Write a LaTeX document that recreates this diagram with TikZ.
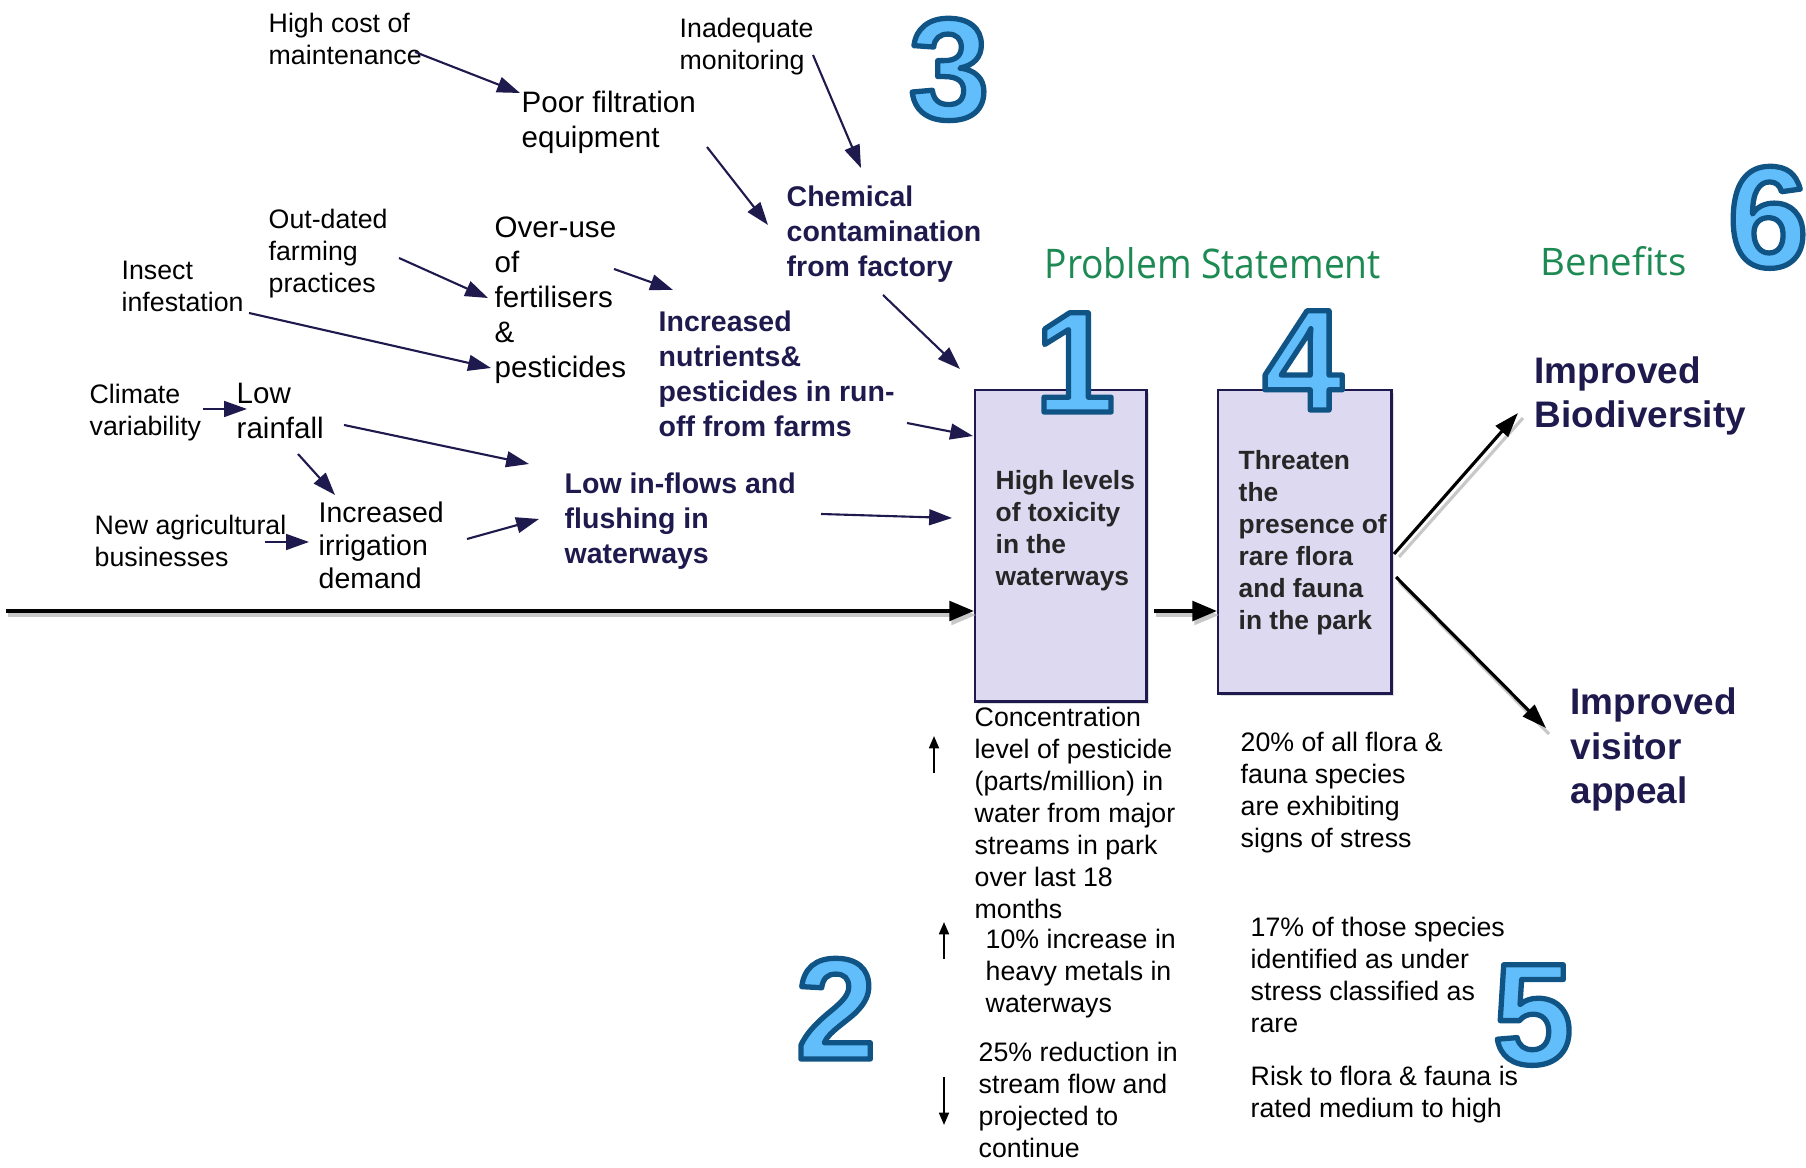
\documentclass[tikz,border=0pt]{standalone}
\usepackage{fontspec}
\usepackage{graphicx}
\setmainfont{Liberation Sans}
\newfontfamily\psfont{Open Sans}
\usetikzlibrary{arrows.meta,calc}
\definecolor{navy}{RGB}{31,26,77}
\definecolor{boxfill}{RGB}{221,217,240}
\definecolor{boxtext}{RGB}{38,38,38}
\definecolor{psgreen}{RGB}{28,138,82}
\definecolor{numfill}{RGB}{97,190,250}
\definecolor{numline}{RGB}{16,84,134}
\definecolor{shade}{RGB}{200,200,200}
\newcommand\fs[2]{\fontsize{#1pt}{#2pt}\selectfont}
% outlined numeral: fill + stroke text rendering (numerals are drawn last)
\newcommand\outl[1]{\special{pdf:literal direct 2 Tr 1.5 w 1 j 0.063 0.329 0.525 RG}#1}
\newcommand\bignum[3]{\node[numstyle,text=numfill] (#1) at (#2) {\outl{#3}};}
\tikzset{
  txt/.style={inner sep=0pt, align=left, anchor=base west},
  smalltxt/.style={txt, font=\fs{7.6}{9.1}},
  midtxt/.style={txt, font=\fs{8.4}{10}},
  cause/.style={txt, text=navy, font=\bfseries\fs{8.1}{10}},
  boxtxt/.style={txt, text=boxtext, font=\bfseries\fs{7.5}{9.1}},
  benefit/.style={txt, text=navy, font=\bfseries\fs{10.5}{12.7}},
  nav/.style={draw=navy, line width=0.6pt, -{Triangle[length=6.5pt,width=4.5pt]}},
  mainarrow/.style={draw=black, line width=1.2pt, -{Triangle[length=7pt,width=5.5pt]}},
  mainshadow/.style={draw=shade, line width=1.2pt, -{Triangle[length=7pt,width=5.5pt]}},
  ben/.style={draw=black, line width=0.9pt, -{Triangle[length=7pt,width=4.6pt]}},
  benshadow/.style={draw=shade, line width=0.9pt},
  tick/.style={draw=black, line width=0.6pt, -{Triangle[length=3.5pt,width=2.8pt]}},
  probbox/.style={draw=navy, fill=boxfill, line width=0.7pt, anchor=north west, inner sep=0pt},
  boxshadow/.style={fill=shade, anchor=north west, inner sep=0pt, opacity=0.6},
  numstyle/.style={inner sep=0pt, anchor=base, font=\bfseries\fontsize{41pt}{41pt}\selectfont},
  headtxt/.style={inner sep=0pt, anchor=base west, text=psgreen},
}
\begin{document}
\begin{tikzpicture}[x=0.01cm, y=-0.01cm]
\useasboundingbox (0,0) rectangle (1806,1168);

% causes (positions are the baseline of the last line)
\node[smalltxt] (hc) at (268,65) {High cost of\\maintenance};
\node[midtxt] (pf) at (521,148) {Poor filtration\\equipment};
\node[smalltxt] (im) at (679,70) {Inadequate\\monitoring};
\node[cause] (cc) at (786,277) {Chemical\\contamination\\from factory};
\node[smalltxt] (od) at (268,293) {Out-dated\\farming\\practices};
\node[smalltxt] (ii) at (121,312) {Insect\\infestation};
\node[midtxt] (ou) at (494,378) {Over-use\\of\\fertilisers\\\&\\pesticides};
\node[cause] (in) at (658,437) {Increased\\nutrients\&\\pesticides in run-\\off from farms};
\node[smalltxt] (cv) at (89,436) {Climate\\variability};
\node[midtxt] (lr) at (236,439) {Low\\rainfall};
\node[smalltxt] (na) at (94,567) {New agricultural\\businesses};
\node[txt, font=\fs{8.1}{9.5}] (ir) at (318,589) {Increased\\irrigation\\demand};
\node[cause] (lf) at (564,564) {Low in-flows and\\flushing in\\waterways};

% problem boxes
\node[boxshadow, minimum width=1.71cm, minimum height=3.11cm] at (977,392) {};
\node[boxshadow, minimum width=1.73cm, minimum height=3.03cm] at (1220,392) {};
\node[probbox, minimum width=1.71cm, minimum height=3.11cm] (b1) at (974,389) {};
\node[probbox, minimum width=1.73cm, minimum height=3.03cm] (b2) at (1217,389) {};
\node[boxtxt] (b1t) at (995,586) {High levels\\of toxicity\\in the\\waterways};
\node[boxtxt] (b2t) at (1238,630) {Threaten\\the\\presence of\\rare flora\\and fauna\\in the park};

% headings
\node[headtxt] (ps) at (1044,279) {\resizebox{3.36cm}{0.31cm}{\psfont Problem Statement}};
\node[headtxt] (bf) at (1540,276) {\resizebox{1.46cm}{0.29cm}{\psfont Benefits}};

% evidence
\node[smalltxt] (conc) at (974,919) {Concentration\\level of pesticide\\(parts/million) in\\water from major\\streams in park\\over last 18\\months};
\node[smalltxt] (metals) at (985,1013) {10\% increase in\\heavy metals in\\waterways};
\node[smalltxt] (flow) at (978,1158) {25\% reduction in\\stream flow and\\projected to\\continue};
\node[smalltxt] (stress) at (1240,848) {20\% of all flora \&\\fauna species\\are exhibiting\\signs of stress};
\node[smalltxt] (rare) at (1250,1033) {17\% of those species\\identified as under\\stress classified as\\rare};
\node[smalltxt] (risk) at (1250,1118) {Risk to flora \& fauna is\\rated medium to high};

% benefits
\node[benefit] (ib) at (1534,428) {Improved\\Biodiversity};
\node[benefit] (iv) at (1570,804) {Improved\\visitor\\appeal};

% connector ends
\coordinate (hc-o) at (415,52);   \coordinate (pf-i) at (520,93);
\coordinate (pf-o) at (707,147);  \coordinate (cc-i1) at (768,225);
\coordinate (im-o) at (813,55);   \coordinate (cc-i2) at (861,168);
\coordinate (cc-o) at (883,295);  \coordinate (b1-i1) at (960,369);
\coordinate (od-o) at (399,258);  \coordinate (ou-i1) at (488,298);
\coordinate (ii-o) at (249,313);  \coordinate (ou-i2) at (491,368);
\coordinate (ou-o) at (614,269);  \coordinate (in-i) at (673,290);
\coordinate (in-o) at (907,423);  \coordinate (b1-i2) at (973,436);
\coordinate (cv-o) at (203,409);  \coordinate (lr-i) at (247,409);
\coordinate (lr-o1) at (344,425); \coordinate (lf-i1) at (529,464);
\coordinate (lr-o2) at (298,454); \coordinate (ir-i1) at (335,495);
\coordinate (na-o) at (265,542);  \coordinate (ir-i2) at (309,542);
\coordinate (ir-o) at (467,539);  \coordinate (lf-i2) at (539,519);
\coordinate (lf-o) at (821,514);  \coordinate (b1-i3) at (952,518);
\coordinate (start) at (6,611);
\coordinate (b2-o1) at (1394,554); \coordinate (ib-i) at (1518,413);
\coordinate (b2-o2) at (1396,577); \coordinate (iv-i) at (1546,728);
\coordinate (up1a) at (934,773);  \coordinate (up1b) at (934,736);
\coordinate (up2a) at (944,959);  \coordinate (up2b) at (944,922);
\coordinate (dna) at (944,1077);  \coordinate (dnb) at (944,1125);

% navy connectors
\draw[nav] (hc-o) -- (pf-i);
\draw[nav] (pf-o) -- (cc-i1);
\draw[nav] (im-o) -- (cc-i2);
\draw[nav] (cc-o) -- (b1-i1);
\draw[nav] (od-o) -- (ou-i1);
\draw[nav] (ii-o) -- (ou-i2);
\draw[nav] (ou-o) -- (in-i);
\draw[nav] (in-o) -- (b1-i2);
\draw[nav] (cv-o) -- (lr-i);
\draw[nav] (lr-o1) -- (lf-i1);
\draw[nav] (lr-o2) -- (ir-i1);
\draw[nav] (na-o) -- (ir-i2);
\draw[nav] (ir-o) -- (lf-i2);
\draw[nav] (lf-o) -- (b1-i3);

% main black arrows
\draw[mainshadow] ($(start)+(2,4)$) -- ($(start -| b1.west)+(2,4)$);
\draw[mainarrow] (start) -- (start -| b1.west);
\draw[mainshadow] ($(start -| b1.east)+(8,4)$) -- ($(start -| b2.west)+(2,4)$);
\draw[mainarrow] ($(start -| b1.east)+(6,0)$) -- (start -| b2.west);
\draw[benshadow] ($(b2-o1)+(5,3)$) -- ($(ib-i)+(5,5)$);
\draw[ben] (b2-o1) -- (ib-i);
\draw[benshadow] ($(b2-o2)+(3,5)$) -- ($(iv-i)+(3,6)$);
\draw[ben] (b2-o2) -- (iv-i);

% trend ticks
\draw[tick] (up1a) -- (up1b);
\draw[tick] (up2a) -- (up2b);
\draw[tick] (dna) -- (dnb);

% big numerals (last)
\bignum{n3}{949,119}{3}
\bignum{n1}{1075,412}{1}
\bignum{n4}{1303,410}{4}
\bignum{n6}{1768,267}{6}
\bignum{n2}{836,1059}{2}
\bignum{n5}{1533,1064}{5}
\end{tikzpicture}
\end{document}
